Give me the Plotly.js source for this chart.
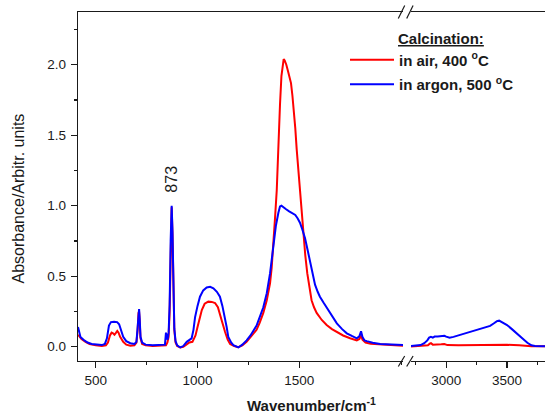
<!DOCTYPE html>
<html><head><meta charset="utf-8">
<script src="https://cdn.plot.ly/plotly-3.0.1.min.js"></script>
<style>html,body{margin:0;padding:0;background:#fff}#plot{width:545px;height:414px}</style>
</head><body><div id="plot"></div>
<script>
// Left segment (400-2000 cm-1)
const wnAirL = [413,420,430,450,470,500,530,550,560,570,578,585,592,600,606,612,620,635,650,670,690,700,706,710,713,716,720,728,745,780,820,845,852,858,863,868,873,877,881,886,892,900,915,930,945,960,975,990,1000,1010,1021,1035,1053,1070,1086,1100,1110,1122,1135,1148,1160,1180,1200,1220,1241,1260,1275,1290,1305,1323,1340,1356,1364,1372,1380,1389,1397,1405,1412,1418,1423,1428,1436,1445,1452,1459,1466,1474,1480,1487,1495,1503,1511,1519,1529,1539,1550,1560,1572,1585,1610,1634,1660,1684,1715,1749,1782,1795,1803,1810,1825,1850,1900,1950,2009];
const absAirL = [0.085,0.07,0.055,0.035,0.02,0.01,0.005,0.01,0.03,0.08,0.10,0.095,0.085,0.10,0.112,0.10,0.07,0.035,0.015,0.008,0.01,0.03,0.12,0.24,0.25,0.18,0.06,0.02,0.01,0.005,0.005,0.01,0.03,0.07,0.25,0.7,0.99,0.8,0.4,0.12,0.03,0.005,-0.005,0.0,0.015,0.03,0.035,0.08,0.14,0.2,0.26,0.305,0.32,0.318,0.31,0.28,0.237,0.17,0.106,0.05,0.02,0.005,-0.003,0.01,0.035,0.065,0.09,0.12,0.17,0.24,0.33,0.45,0.56,0.71,0.9,1.11,1.47,1.72,1.92,2.015,2.04,2.03,2.0,1.95,1.91,1.87,1.78,1.67,1.55,1.40,1.25,1.09,0.94,0.80,0.65,0.52,0.41,0.33,0.28,0.24,0.19,0.154,0.125,0.106,0.08,0.06,0.045,0.055,0.08,0.05,0.03,0.022,0.015,0.012,0.008];
const wnArL = [413,418,425,440,460,480,500,530,545,555,565,575,590,605,615,625,635,650,670,690,700,706,710,713,716,720,728,745,780,820,840,845,849,853,858,863,868,873,877,881,886,892,900,915,930,947,960,971,980,988,1000,1012,1028,1045,1062,1078,1095,1110,1122,1135,1143,1151,1165,1176,1200,1220,1241,1260,1290,1323,1340,1356,1372,1385,1397,1405,1412,1420,1435,1450,1465,1480,1492,1503,1515,1528,1540,1553,1565,1577,1590,1601,1620,1642,1663,1684,1710,1733,1760,1782,1795,1803,1810,1820,1831,1860,1897,1950,2009];
const absArL = [0.14,0.1,0.07,0.05,0.03,0.02,0.015,0.012,0.02,0.06,0.15,0.175,0.178,0.175,0.16,0.11,0.07,0.04,0.025,0.02,0.035,0.14,0.26,0.268,0.2,0.07,0.03,0.015,0.01,0.01,0.015,0.1,0.06,0.05,0.1,0.3,0.75,1.0,0.82,0.42,0.13,0.04,0.01,-0.005,0.005,0.035,0.05,0.06,0.12,0.21,0.29,0.355,0.40,0.42,0.425,0.414,0.39,0.355,0.29,0.21,0.14,0.07,0.03,0.012,-0.005,0.015,0.045,0.08,0.15,0.28,0.38,0.52,0.71,0.86,0.95,0.995,1.0,0.99,0.975,0.96,0.95,0.935,0.91,0.88,0.83,0.77,0.69,0.60,0.51,0.44,0.39,0.355,0.31,0.26,0.21,0.166,0.125,0.095,0.075,0.06,0.075,0.11,0.07,0.045,0.04,0.028,0.02,0.015,0.013];
// Right segment (2700-3800 cm-1)
const wnAirR = [2711,2800,2850,2865,2875,2890,2930,2960,2985,3010,3100,3200,3300,3400,3500,3600,3700,3812];
const absAirR = [0.002,0.005,0.01,0.022,0.025,0.015,0.014,0.017,0.02,0.012,0.01,0.012,0.014,0.016,0.014,0.01,0.004,0.003];
const wnArR = [2711,2750,2790,2820,2845,2860,2875,2890,2905,2930,2960,2985,3000,3028,3060,3100,3167,3220,3278,3330,3361,3390,3417,3435,3460,3500,3540,3583,3625,3667,3700,3730,3812];
const absArR = [0.005,0.006,0.012,0.025,0.045,0.065,0.07,0.065,0.072,0.072,0.075,0.078,0.072,0.064,0.07,0.08,0.095,0.108,0.123,0.138,0.148,0.165,0.182,0.185,0.175,0.154,0.125,0.095,0.06,0.028,0.01,0.005,0.004];

const seriesNames = ['in air, 400 <sup>o</sup>C', 'in argon, 500 <sup>o</sup>C'];
const colors = ['#ff0000', '#0000ff'];
const yTickVals = [0, 0.5, 1.0, 1.5, 2.0];
const xTickValsL = [500, 1000, 1500];
const xTickValsR = [3000, 3500];
const peakLabel = '873';

const FONT = 'Liberation Sans, Arial, sans-serif';
const INK = '#1a1a1a';
const M = {l: 78, r: 0, t: 12, b: 53};
const W = 545, H = 414;
const PW = W - M.l - M.r, PH = H - M.t - M.b;
const px = x => (x - M.l) / PW;
const py = y => 1 - (y - M.t) / PH;

const traces = [
  {x: wnAirL, y: absAirL, xaxis: 'x', yaxis: 'y', mode: 'lines', name: '<b>' + seriesNames[0] + '</b>', legendgroup: 'a', line: {color: colors[0], width: 2}},
  {x: wnAirR, y: absAirR, xaxis: 'x2', yaxis: 'y', mode: 'lines', showlegend: false, legendgroup: 'a', line: {color: colors[0], width: 2}},
  {x: wnArL, y: absArL, xaxis: 'x', yaxis: 'y', mode: 'lines', name: '<b>' + seriesNames[1] + '</b>', legendgroup: 'b', line: {color: colors[1], width: 2}},
  {x: wnArR, y: absArR, xaxis: 'x2', yaxis: 'y', mode: 'lines', showlegend: false, legendgroup: 'b', line: {color: colors[1], width: 2}}
];

const dL = [0, px(403)], dR = [px(411), 1];
const common = {
  showline: true, linecolor: INK, linewidth: 1.3, mirror: true,
  ticks: 'outside', ticklen: 6, tickwidth: 1.2, tickcolor: INK,
  showgrid: false, zeroline: false,
  tickfont: {family: FONT, size: 13.5, color: INK},
  minor: {ticks: 'outside', ticklen: 3, tickwidth: 1.2, tickcolor: INK, dtick: 250, tick0: 250, showgrid: false}
};

const layout = {
  width: W, height: H, margin: M,
  paper_bgcolor: '#fff', plot_bgcolor: '#fff',
  showlegend: true,
  legend: {x: px(345), y: py(43.5), xanchor: 'left', yanchor: 'top', bgcolor: 'rgba(0,0,0,0)',
           font: {family: FONT, size: 15, color: INK}, itemwidth: 44, traceorder: 'grouped', tracegroupgap: 2},
  xaxis: Object.assign({}, common, {domain: dL, range: [413, 2009], anchor: 'y', tickmode: 'array', tickvals: xTickValsL}),
  xaxis2: Object.assign({}, common, {domain: dR, range: [2711, 3812], anchor: 'y', tickmode: 'array', tickvals: xTickValsR}),
  xaxis3: {overlaying: 'x', matches: 'x', side: 'top', anchor: 'y', showline: false, showgrid: false, zeroline: false,
    ticks: 'inside', ticklen: 2, tickcolor: INK, showticklabels: false, tickmode: 'array', tickvals: [500, 750, 1000, 1250, 1500, 1750, 2000]},
  xaxis4: {overlaying: 'x2', matches: 'x2', side: 'top', anchor: 'y', showline: false, showgrid: false, zeroline: false,
    ticks: 'inside', ticklen: 2, tickcolor: INK, showticklabels: false, tickmode: 'array', tickvals: [2750, 3000, 3250, 3500, 3750]},
  yaxis: Object.assign({}, common, {range: [-0.101, 2.374], anchor: 'x', mirror: false, tickmode: 'array', tickvals: yTickVals,
    tickformat: '.1f', ticklabelstandoff: 2, minor: {ticks: 'outside', ticklen: 3, tickwidth: 1.2, tickcolor: INK, dtick: 0.25, tick0: 0, showgrid: false}}),
  annotations: [
    {xref: 'x', yref: 'y', x: 873, y: 1.19, text: peakLabel, textangle: -90, showarrow: false, xanchor: 'center', yanchor: 'middle',
     font: {family: FONT, size: 16, color: INK}},
    {xref: 'paper', yref: 'paper', x: px(17.5), y: py(199), text: 'Absorbance/Arbitr. units', textangle: -90, showarrow: false,
     xanchor: 'center', yanchor: 'middle', font: {family: FONT, size: 16, color: INK}},
    {xref: 'paper', yref: 'paper', x: px(311.5), y: py(404), text: '<b>Wavenumber/cm<sup>-1</sup></b>', showarrow: false,
     xanchor: 'center', yanchor: 'middle', font: {family: FONT, size: 15, color: INK}},
    {xref: 'paper', yref: 'paper', x: px(396), y: py(38.3), text: '<b><span style="text-decoration:underline">Calcination:</span></b>', showarrow: false,
     xanchor: 'left', yanchor: 'middle', font: {family: FONT, size: 15, color: INK}}
  ],
  shapes: [
    // axis break marks (bottom)
    {type: 'line', xref: 'paper', yref: 'paper', x0: px(398.3), y0: py(366.5), x1: px(404.7), y1: py(356), line: {color: INK, width: 1.2}},
    {type: 'line', xref: 'paper', yref: 'paper', x0: px(406.7), y0: py(366.5), x1: px(413.1), y1: py(356), line: {color: INK, width: 1.2}},
    // axis break marks (top)
    {type: 'line', xref: 'paper', yref: 'paper', x0: px(398.3), y0: py(18.5), x1: px(404.7), y1: py(5.5), line: {color: INK, width: 1.2}},
    {type: 'line', xref: 'paper', yref: 'paper', x0: px(406.7), y0: py(18.5), x1: px(413.1), y1: py(5.5), line: {color: INK, width: 1.2}}
  ]
};

Plotly.newPlot('plot', traces, layout, {staticPlot: true, displayModeBar: false});
</script></body></html>
